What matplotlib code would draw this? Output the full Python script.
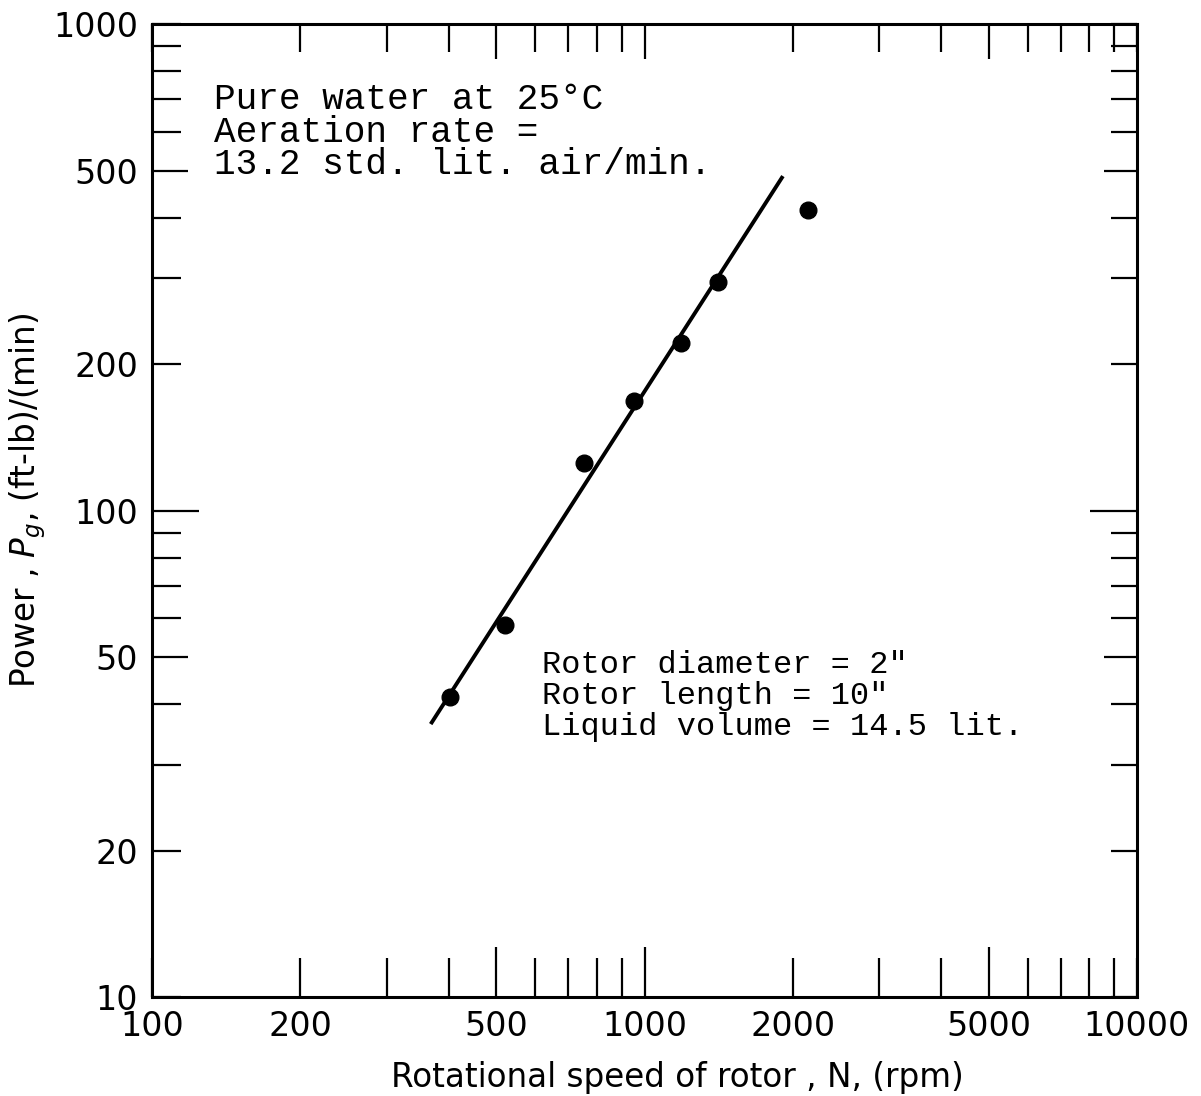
import numpy as np
import matplotlib.pyplot as plt
from matplotlib.ticker import FixedLocator, FixedFormatter

# dados
rpm = [402, 522, 752, 950, 1184, 1407, 2145]
potencia = [41.4, 58.2, 125, 168, 221, 295, 415]
# reta ajustada (extremos)
reta_rpm = [368, 1910]
reta_pot = [36.4, 487]

x_labels = [100, 200, 500, 1000, 2000, 5000, 10000]
y_labels = [10, 20, 50, 100, 200, 500, 1000]
x_minor = [300, 400, 600, 700, 800, 900, 3000, 4000, 6000, 7000, 8000, 9000]
y_minor = [30, 40, 60, 70, 80, 90, 300, 400, 600, 700, 800, 900]

fig = plt.figure(figsize=(12.01, 10.96), dpi=100)
ax = fig.add_axes([0.1266, 0.0903, 0.8201, 0.8877])

ax.plot(reta_rpm, reta_pot, color='black', lw=2.8, solid_capstyle='butt')
ax.plot(rpm, potencia, 'o', color='black', ms=12)

ax.set_xscale('log')
ax.set_yscale('log')
ax.set_xlim(100, 10000)
ax.set_ylim(10, 1000)

# ticks
ax.xaxis.set_major_locator(FixedLocator(x_labels))
ax.xaxis.set_major_formatter(FixedFormatter([str(v) for v in x_labels]))
ax.xaxis.set_minor_locator(FixedLocator(x_minor))
ax.yaxis.set_major_locator(FixedLocator(y_labels))
ax.yaxis.set_major_formatter(FixedFormatter([str(v) for v in y_labels]))
ax.yaxis.set_minor_locator(FixedLocator(y_minor))
ax.xaxis.set_minor_formatter(FixedFormatter([]))
ax.yaxis.set_minor_formatter(FixedFormatter([]))

ax.tick_params(which='both', direction='in', top=True, right=True, width=1.6)
ax.tick_params(axis='x', which='major', labelsize=24, pad=9)
ax.tick_params(axis='y', which='major', labelsize=24, pad=10)

def comprimentos(ticks, locs, tamanho):
    for t, v in zip(ticks, locs):
        a, b = tamanho(v)
        t.tick1line.set_markersize(a)
        t.tick2line.set_markersize(b)

tx = lambda v: (36, 25) if v in (500, 1000, 5000) else (28, 20)
ty = lambda v: (34, 34) if v == 100 else ((26, 24) if v in (50, 500) else (21, 19))
comprimentos(ax.xaxis.get_major_ticks(), x_labels, tx)
comprimentos(ax.xaxis.get_minor_ticks(), x_minor, tx)
comprimentos(ax.yaxis.get_major_ticks(), y_labels, ty)
comprimentos(ax.yaxis.get_minor_ticks(), y_minor, ty)

for s in ax.spines.values():
    s.set_linewidth(2.2)

ax.set_xlabel('Rotational speed of rotor , N, (rpm)', fontsize=23.5)
ax.set_ylabel('Power , $P_g$, (ft-lb)/(min)', fontsize=23.5)
ax.xaxis.set_label_coords(0.533, -0.066)
ax.yaxis.set_label_coords(-0.106, 0.51)

ax.text(0.063, 0.94, 'Pure water at 25°C\nAeration rate =\n13.2 std. lit. air/min.',
        transform=ax.transAxes, fontsize=26, fontfamily='Liberation Mono',
        va='top', ha='left', linespacing=0.9)
ax.text(0.396, 0.357, 'Rotor diameter = 2"\nRotor length = 10"\nLiquid volume = 14.5 lit.',
        transform=ax.transAxes, fontsize=23, fontfamily='Liberation Mono',
        va='top', ha='left', linespacing=1.06)

fig.savefig('out.png', dpi=100)
